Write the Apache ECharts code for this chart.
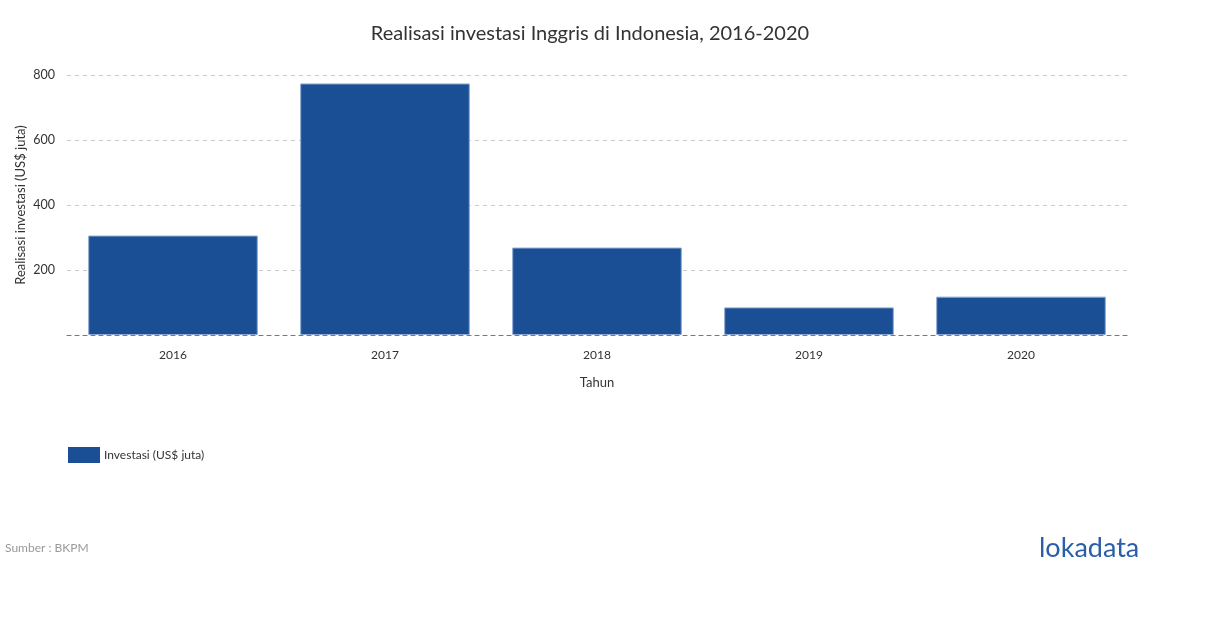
<!DOCTYPE html>
<html>
<head>
<meta charset="utf-8">
<script src="https://cdn.jsdelivr.net/npm/echarts@6/dist/echarts.min.js"></script>
<style>
  html, body { margin: 0; padding: 0; background: #fff; }
  #chart { width: 1210px; height: 628px; }
</style>
</head>
<body>
<div id="chart"></div>
<script>
const years = ['2016', '2017', '2018', '2019', '2020']
const investasi = [306, 774, 269, 85, 118]
const yTicks = [0, 200, 400, 600, 800]

const myChart = echarts.init(document.getElementById('chart'))

const font = 'Lato, "Open Sans", sans-serif'

const options = {
  textStyle: { fontFamily: font },
  title: {
    text: 'Realisasi investasi Inggris di Indonesia, 2016-2020',
    left: 585,
    top: 19,
    textAlign: 'center',
    textStyle: { fontFamily: font, fontSize: 20, fontWeight: 'normal', color: '#333' }
  },
  legend: {
    left: 63,
    top: 442,
    itemWidth: 32,
    itemHeight: 16,
    itemGap: 4,
    icon: 'rect',
    itemStyle: { borderWidth: 0 },
    textStyle: { fontFamily: font, fontSize: 12, color: '#333', padding: [0, 0, 0, -1] },
    data: ['Investasi (US$ juta)']
  },
  grid: {
    left: 67,
    right: 83,
    top: 75,
    height: 260
  },
  xAxis: {
    type: 'category',
    data: years,
    name: 'Tahun',
    nameLocation: 'middle',
    nameGap: 41,
    nameTextStyle: { fontFamily: font, fontSize: 13, color: '#333' },
    axisTick: { show: false },
    axisLine: { show: true, lineStyle: { color: '#777', type: [4, 4], width: 1 } },
    axisLabel: { fontFamily: font, fontSize: 12, color: '#333', margin: 14 }
  },
  yAxis: {
    type: 'value',
    min: yTicks[0],
    max: yTicks[yTicks.length - 1],
    interval: 200,
    name: 'Realisasi investasi (US$ juta)',
    nameLocation: 'middle',
    nameGap: 40,
    nameMoveOverlap: false,
    nameTextStyle: { fontFamily: font, fontSize: 13, color: '#333' },
    axisLine: { show: false },
    axisTick: { show: false },
    axisLabel: {
      fontFamily: font, fontSize: 12.5, color: '#333', margin: 12,
      formatter: v => (v === 0 ? '' : String(v))
    },
    splitLine: {
      show: true,
      lineStyle: { color: '#ccc', type: [4, 4] }
    }
  },
  series: [
    {
      name: 'Investasi (US$ juta)',
      type: 'bar',
      data: investasi,
      barCategoryGap: '20%',
      itemStyle: {
        color: '#1a4f96',
        borderColor: '#8eaad0',
        borderWidth: 1
      }
    }
  ],
  graphic: [
    {
      type: 'text',
      left: 5,
      top: 542,
      style: { text: 'Sumber : BKPM', fontFamily: font, fontSize: 12, fill: '#999' }
    },
    {
      type: 'text',
      left: 1039,
      top: 535,
      style: { text: 'lokadata', fontFamily: font, fontSize: 27, fill: '#2a5ea8' }
    }
  ]
}

myChart.setOption(options)
</script>
</body>
</html>
